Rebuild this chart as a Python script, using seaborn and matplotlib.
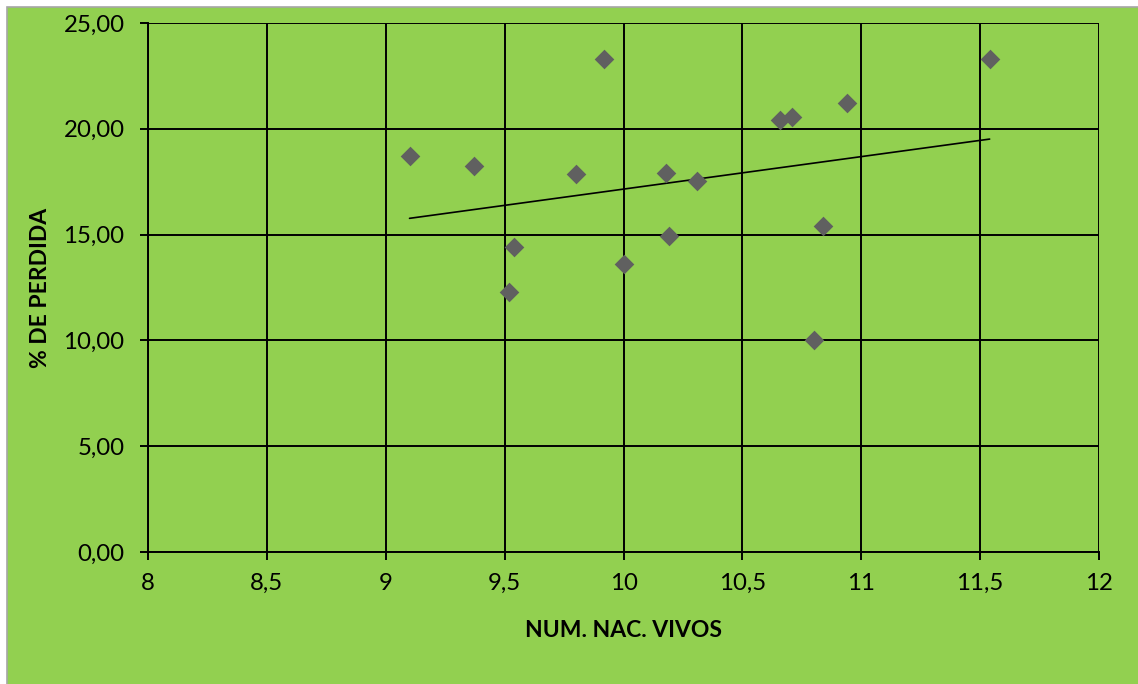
import numpy as np
import pandas as pd
import matplotlib
matplotlib.use("Agg")
import matplotlib.pyplot as plt
from matplotlib.patches import Rectangle
from matplotlib.ticker import FuncFormatter, MultipleLocator
import seaborn as sns

# Live births per litter vs. percentage of loss
nac_vivos = [9.10, 9.37, 9.52, 9.54, 9.80, 9.92, 10.00, 10.18, 10.19, 10.31,
             10.66, 10.71, 10.80, 10.84, 10.94, 11.54]
perdida = [18.70, 18.25, 12.30, 14.40, 17.85, 23.30, 13.60, 17.90, 14.95, 17.55,
           20.40, 20.55, 10.00, 15.40, 21.20, 23.30]

x_label = "NUM. NAC. VIVOS"
y_label = "% DE PERDIDA"

df = pd.DataFrame({x_label: nac_vivos, y_label: perdida})

GREEN = "#92D050"
sns.set_theme(style="white")
plt.rcParams["font.family"] = ["Lato", "DejaVu Sans"]

fig = plt.figure(figsize=(11.38, 6.84), dpi=100, facecolor="white")
# chart area panel with thin grey frame
fig.patches.append(Rectangle((7 / 1138, -0.01), 1.02, 1 - 7 / 684 + 0.01,
                             transform=fig.transFigure, facecolor=GREEN,
                             edgecolor="#A6A6A6", linewidth=1.2, zorder=-10))

ax = fig.add_axes([148 / 1138, 1 - 552 / 684, (1099 - 148) / 1138, (552 - 23) / 684])
ax.set_zorder(1)
ax.set_facecolor(GREEN)

sns.regplot(data=df, x=x_label, y=y_label, ax=ax, ci=None, marker="D",
            scatter_kws=dict(s=100, color="#606060", linewidths=0, zorder=3, alpha=1),
            line_kws=dict(color="black", linewidth=1.2, zorder=2))

ax.set_xlim(8, 12)
ax.set_ylim(0, 25)
ax.xaxis.set_major_locator(MultipleLocator(0.5))
ax.yaxis.set_major_locator(MultipleLocator(5))
ax.xaxis.set_major_formatter(FuncFormatter(lambda v, p: f"{v:g}".replace(".", ",")))
ax.yaxis.set_major_formatter(FuncFormatter(lambda v, p: f"{v:.2f}".replace(".", ",")))

ax.grid(True, color="black", linewidth=1.4)
ax.set_axisbelow(True)
for side in ["top", "right"]:
    ax.spines[side].set_visible(False)
for side in ["left", "bottom"]:
    ax.spines[side].set_color("black")
    ax.spines[side].set_linewidth(1.4)

ax.tick_params(axis="both", which="major", direction="out", length=6, width=1.4,
               color="black", labelsize=17.3, labelcolor="black")
ax.tick_params(axis="x", pad=9, bottom=True)
ax.tick_params(axis="y", pad=11, left=True)

ax.set_xlabel(x_label, fontsize=16.5, fontweight="bold", color="black", labelpad=19)
ax.set_ylabel(y_label, fontsize=16.5, fontweight="bold", color="black", labelpad=9)

fig.savefig("out.png", dpi=100, facecolor=fig.get_facecolor())
